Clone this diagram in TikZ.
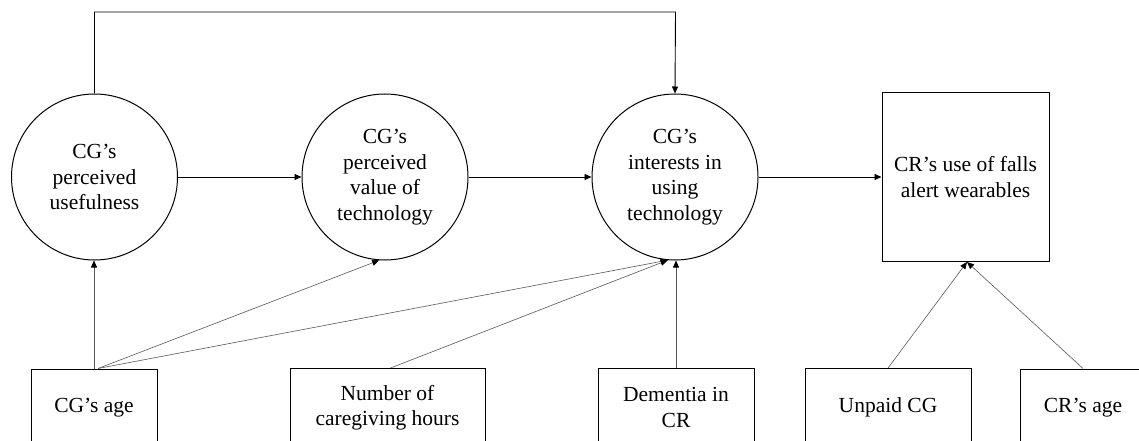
\documentclass[tikz,border=0pt]{standalone}
\usepackage{fontspec}
\setmainfont{Liberation Serif}
\usetikzlibrary{arrows.meta}
\tikzset{
  lat/.style={circle,draw,line width=1pt,minimum size=166pt,inner sep=0pt,align=center},
  outbox/.style={rectangle,draw,line width=1pt,minimum width=167pt,minimum height=169pt,inner sep=0pt,align=center},
  cov/.style={rectangle,draw,line width=1pt,minimum height=78pt,inner sep=0pt,align=center},
  arr/.style={line width=0.9pt,-{Triangle[length=7pt,width=6pt]}},
  darr/.style={line width=0.6pt,black!65,-{Triangle[length=7pt,width=6pt,fill=black,color=black]}},
}
\begin{document}
\begin{tikzpicture}[x=1pt,y=-1pt,font=\fontsize{21.5}{25.5}\selectfont]
\useasboundingbox (0,0) rectangle (1139,441);
\clip (0,0) rectangle (1139,441);
\fill[white] (0,0) rectangle (1139,441);
% latent circles
\node[lat] (c1) at (94.5,177) {CG’s\\perceived\\usefulness};
\node[lat] (c2) at (385,177) {CG’s\\perceived\\value of\\technology};
\node[lat] (c3) at (675,177) {CG’s\\interests in\\using\\technology};
\node[outbox] (r) at (965.5,177) {CR’s use of falls\\alert wearables};
% covariates
\node[cov,minimum width=126pt] (b1) at (94,408) {CG’s age};
\node[cov,minimum width=195pt] (b2) at (387.5,407.5) {Number of\\caregiving hours};
\node[cov,minimum width=156pt] (b3) at (676,407.5) {Dementia in\\CR};
\node[cov,minimum width=166pt] (b4) at (888,407.5) {Unpaid CG};
\node[cov,minimum width=126pt] (b5) at (1083,408) {CR’s age};
% main path
\draw[arr] (c1.east) -- (c2.west);
\draw[arr] (c2.east) -- (c3.west);
\draw[arr] (c3.east) -- (r.west);
\coordinate (tl) at (94.5,12);
\coordinate (tr) at (675.5,12);
\draw[arr] (c1.north) -- (tl) -- (tr) -- (c3.north);
% covariate paths
\coordinate (b1s) at ([xshift=4pt]b1.north);
\coordinate (c3t) at (c3.265);
\coordinate (rt) at ([xshift=1.5pt]r.south);
\draw[darr] (b1.north) -- (b1.north |- c1.south);
\draw[darr] (b1s) -- (c2.266);
\draw[darr] (b1s) -- (c3t);
\draw[darr] ([xshift=3pt]b2.north) -- (c3t);
\draw[darr] (b3.north) -- (b3.north |- c3.south);
\draw[darr] (b4.north) -- (rt);
\draw[darr] (b5.north) -- (rt);
\end{tikzpicture}
\end{document}
